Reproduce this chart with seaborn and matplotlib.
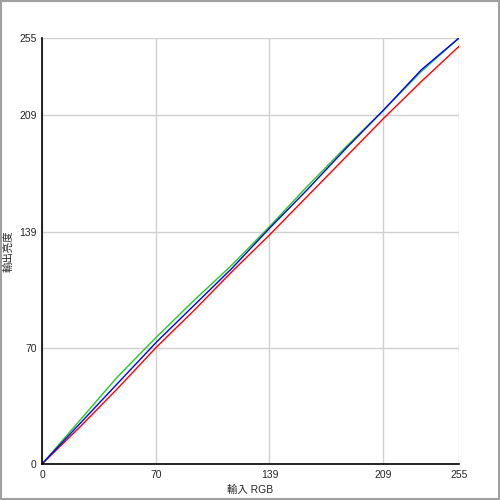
"""Curve chart: input RGB vs output brightness."""
import matplotlib
import matplotlib.pyplot as plt
import pandas as pd
import seaborn as sns
from matplotlib.patches import Rectangle

matplotlib.use("Agg")

x_input = [0, 23, 46, 70, 93, 116, 139, 162, 185, 209, 232, 255]
red_out = [0, 22, 45, 70, 92, 115, 137, 160, 183, 207, 229, 250]
green_out = [0, 26, 52, 76, 98, 119, 142, 166, 189, 212, 235, 255]
blue_out = [0, 24, 48, 73, 95, 117, 141, 164, 188, 212, 236, 255]

major_ticks = [0, 255 * 3 / 11, 255 * 6 / 11, 255 * 9 / 11, 255]
major_labels = ["0", "70", "139", "209", "255"]
minor_ticks = [255 * i / 11 for i in (1, 2, 4, 5, 7, 8, 10)]

sns.set_style("white")
plt.rcParams["font.family"] = ["Liberation Sans", "Noto Sans CJK TC", "DejaVu Sans"]

fig = plt.figure(figsize=(5, 5), dpi=100)
ax = fig.add_axes([0.084, 0.072, 0.834, 0.852])

df = pd.DataFrame({"x": x_input, "r": red_out, "g": green_out, "b": blue_out})
sns.lineplot(data=df, x="x", y="r", color="#ff0000", lw=1, ax=ax)
sns.lineplot(data=df, x="x", y="g", color="#22cc22", lw=1, ax=ax)
sns.lineplot(data=df, x="x", y="b", color="#0000ff", lw=1, ax=ax)

ax.set_xlim(0, 255)
ax.set_ylim(0, 255)
ax.set_xticks(major_ticks)
ax.set_xticklabels(major_labels)
ax.set_yticks(major_ticks)
ax.set_yticklabels(major_labels)
ax.set_xticks(minor_ticks, minor=True)
ax.set_yticks(minor_ticks, minor=True)
ax.tick_params(which="both", direction="inout", length=6, width=1,
               color="black", labelsize=7.5, pad=1)
ax.grid(True, which="major", color="#d0d0d0", lw=1)
ax.set_axisbelow(True)

for side in ("top", "right"):
    ax.spines[side].set_visible(False)
for side in ("left", "bottom"):
    ax.spines[side].set_color("black")
    ax.spines[side].set_linewidth(1.2)

ax.set_xlabel("輸入 RGB", fontsize=7.5, labelpad=4)
ax.set_ylabel("輸出亮度", fontsize=7.5)
ax.yaxis.set_label_coords(-0.08, 0.5)
ax.yaxis.label.set_va("center")

fig.patches.append(Rectangle((0.002, 0.002), 0.996, 0.996, transform=fig.transFigure,
                             fill=False, edgecolor="#a0a0a0", lw=1.5))

fig.savefig("out.png", dpi=100)
plt.close(fig)
